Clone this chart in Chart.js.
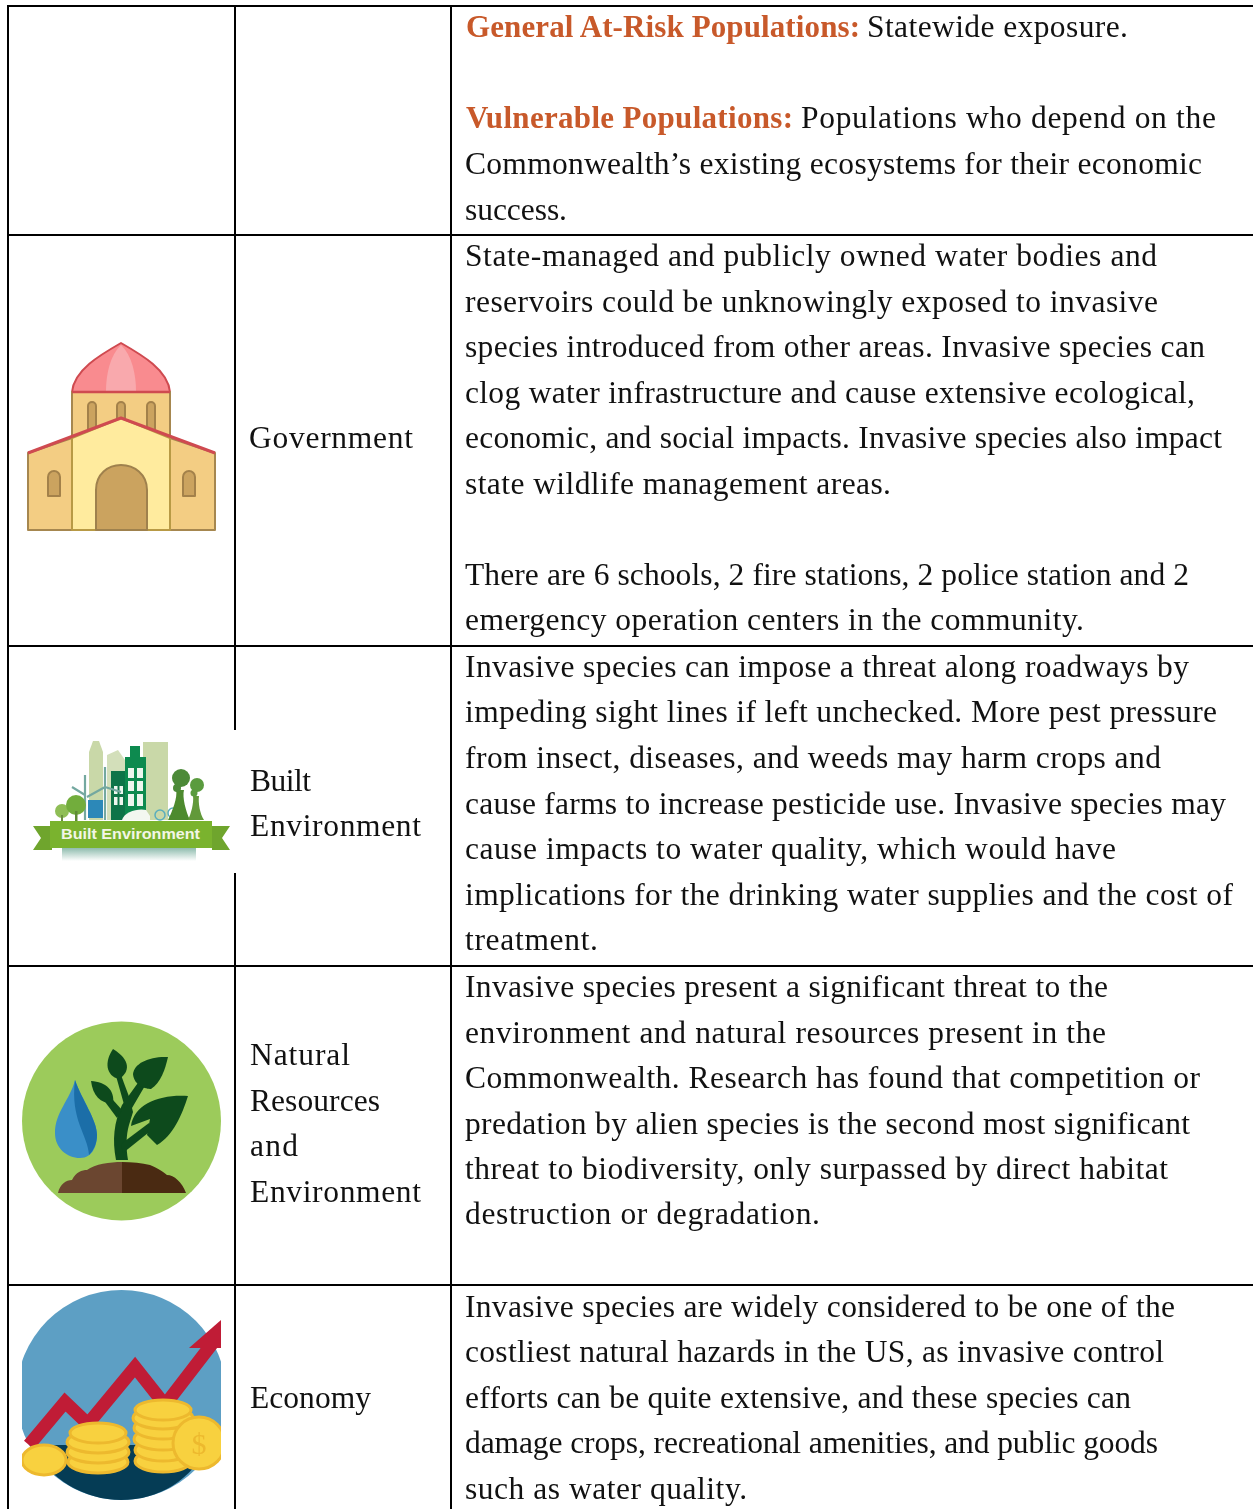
<!DOCTYPE html>
<html><head><meta charset="utf-8">
<script src="https://cdn.jsdelivr.net/npm/chart.js@4/dist/chart.umd.js"></script>
<style>
html,body{margin:0;padding:0;background:#fff;overflow:hidden}
#wrap{position:relative;width:1253px;height:1509px}
canvas,svg{position:absolute;left:0;top:0}
.t{position:absolute;white-space:pre;line-height:46px;height:46px;font-family:"Liberation Serif",serif;font-size:31.500px;color:#111}
.b{font-weight:bold;color:#c8592a;font-size:31px}
</style></head><body>
<div id="wrap"><canvas id="c" width="1253" height="1509"></canvas>
<svg id="icons" width="1253" height="1509" viewBox="0 0 1253 1509">
<defs>
<clipPath id="ec"><rect x="22" y="1285" width="199" height="224"/></clipPath>
<linearGradient id="fade" x1="0" y1="0" x2="0" y2="1"><stop offset="0" stop-color="#8fbcae"/><stop offset="1" stop-color="#fff"/></linearGradient>
</defs>
<!-- Government -->
<g stroke-linejoin="round">
<path d="M72 392C74 370 100 355 121 343C142 355 168 370 170 392Z" fill="#f98b8f" stroke="#cf4a50" stroke-width="2"/>
<path d="M121 345C110 355 106 375 106 391L136 391C136 375 132 355 121 345Z" fill="#f9a9ad"/>
<rect x="72" y="392" width="98" height="60" fill="#f3cd83" stroke="#a6874f" stroke-width="2"/>
<line x1="72" y1="392" x2="170" y2="392" stroke="#cf4a50" stroke-width="2.500"/>
<g fill="#cba35f" stroke="#a3814a" stroke-width="2">
<path d="M88 432V406a4 4 0 0 1 8 0V432Z"/><path d="M117 430V406a4 4 0 0 1 8 0V430Z"/><path d="M147 432V406a4 4 0 0 1 8 0V432Z"/></g>
<path d="M28 453L72 438V530H28Z" fill="#f3cd83" stroke="#a6874f" stroke-width="2"/>
<path d="M170 438L215 453V530H170Z" fill="#f3cd83" stroke="#a6874f" stroke-width="2"/>
<path d="M72 438L121 418L170 438V530H72Z" fill="#ffeb9e" stroke="#b89a45" stroke-width="2"/>
<path d="M28 453L121 418L215 453" fill="none" stroke="#cf4a50" stroke-width="3"/>
<path d="M96 530V490C96 474 108 465 121 465C134 465 147 474 147 490V530Z" fill="#cba35f" stroke="#9f814d" stroke-width="2"/>
<g fill="#cba35f" stroke="#a3814a" stroke-width="2">
<path d="M48 496V477a6 6 0 0 1 12 0V496Z"/><path d="M183 496V477a6 6 0 0 1 12 0V496Z"/></g>
</g>
<!-- Built environment -->
<rect x="22" y="730" width="214" height="143" fill="#fff"/>
<g>
<path d="M89 820V752L93 741L99 741L103 752V820Z" fill="#c9d8a8"/>
<path d="M107 820V755L118 750L125 760V820Z" fill="#d3dfba"/>
<rect x="143" y="742" width="25" height="78" fill="#c9d8a8"/>
<rect x="125" y="757" width="21" height="63" fill="#0d8a4f"/><rect x="130" y="746" width="10" height="12" fill="#0d8a4f"/>
<rect x="111" y="771" width="14" height="49" fill="#0e7448"/>
<g fill="#eef6ee"><rect x="128" y="768" width="6" height="10"/><rect x="137" y="768" width="6" height="10"/><rect x="128" y="781" width="6" height="10"/><rect x="137" y="781" width="6" height="10"/><rect x="128" y="794" width="6" height="12"/><rect x="137" y="794" width="6" height="12"/><rect x="114" y="786" width="3.500" height="8"/><rect x="119.500" y="786" width="3.500" height="8"/><rect x="114" y="797" width="3.500" height="8"/><rect x="119.500" y="797" width="3.500" height="8"/></g>
<rect x="88" y="800" width="15" height="18" fill="#2c88b8"/>
<path d="M85 775V820M105 767V820M105 787L87 797M105 787L121 792M85 795L72 787" stroke="#74a8a0" stroke-width="2.200" fill="none"/>
<circle cx="62" cy="811" r="7" fill="#8fbe56"/><rect x="61" y="815" width="2" height="6" fill="#6a8f3e"/>
<circle cx="76" cy="805" r="10" fill="#72ad3c"/><rect x="75" y="811" width="2.500" height="10" fill="#5e8a35"/>
<path d="M122 820C124 812 138 808 146 810L150 816L150 820Z" fill="#f3f7f0"/>
<circle cx="160" cy="815" r="5" fill="none" stroke="#5aaebd" stroke-width="1.500"/><circle cx="173" cy="813" r="5" fill="none" stroke="#5aaebd" stroke-width="1.500"/>
<path d="M176 790C178 797 172 812 168 820H190C186 812 182 797 184 790Z" fill="#4d8a2e"/>
<path d="M193 796C194 803 191 814 188 820H204C200 814 198 803 199 796Z" fill="#62993a"/>
<circle cx="181" cy="778" r="9" fill="#4c8a38"/><circle cx="177" cy="788" r="4" fill="#4c8a38"/>
<circle cx="197" cy="785" r="7" fill="#5a9b3e"/><circle cx="194" cy="793" r="3.500" fill="#5a9b3e"/>
<path d="M33 826H52V850H33L41 838Z" fill="#6fa52d"/><path d="M212 826H230L222 838L230 850H212Z" fill="#6fa52d"/>
<rect x="50" y="821" width="162" height="27" fill="#7ab32e"/>
<rect x="62" y="848" width="134" height="13" fill="url(#fade)"/>
<text x="130.500" y="838.500" text-anchor="middle" textLength="139" lengthAdjust="spacingAndGlyphs" font-family="Liberation Sans" font-weight="bold" font-size="15" fill="#f2f6e6">Built Environment</text>
</g>
<!-- Natural resources -->
<circle cx="121.500" cy="1121" r="99.500" fill="#9ccb5b"/>
<path d="M75 1080C70 1100 55 1112 55 1133C55 1148 67 1158 80 1158C93 1158 97 1145 97 1135C97 1120 82 1100 75 1080Z" fill="#3a8fc8"/>
<path d="M75 1080C82 1100 97 1120 97 1135C97 1143 94 1150 89 1155C88 1135 70 1120 75 1080Z" fill="#1b6ea8"/>
<g fill="#0d4a1c">
<path d="M116 1160C112 1140 114 1122 122 1105L140 1080L146 1084L132 1108L133 1112L129 1125C126 1135 126 1148 128 1160Z"/>
<path d="M117 1118L100 1095L105 1091L122 1110Z"/><path d="M125 1108L116 1076L121 1075L131 1102Z"/>
<path d="M121 1144L149 1123L153 1129L123 1153Z"/>
<path d="M113 1049C104 1062 106 1076 119 1079C130 1072 131 1060 113 1049Z"/>
<path d="M168 1057C150 1056 134 1063 133 1074C134 1086 146 1089 151 1089C161 1082 165 1070 168 1057Z"/>
<path d="M91 1081C93 1096 100 1103 113 1104C115 1090 106 1082 91 1081Z"/>
<path d="M188 1096C160 1094 134 1104 131 1126L150 1119L147 1135L157 1145C173 1136 182 1115 188 1096Z"/>
</g>
<path d="M58 1193C60 1184 66 1180 72 1180C76 1172 82 1170 87 1170C95 1164 110 1162 122 1162V1193Z" fill="#6b4630"/>
<path d="M122 1162C132 1162 142 1163 150 1165C158 1168 163 1172 167 1175C174 1175 182 1182 186 1193H122Z" fill="#4a2a12"/>
<!-- Economy -->
<g clip-path="url(#ec)">
<circle cx="121.500" cy="1395" r="105" fill="#5d9fc4"/>
<path d="M30 1445H210C190 1480 160 1500 121 1500C85 1500 50 1480 30 1445Z" fill="#053c55"/>
<polyline points="29,1445 65,1402 88,1424 135,1367 165,1405 215,1340" fill="none" stroke="#c01c36" stroke-width="13" stroke-linejoin="miter"/>
<path d="M221 1320L189 1348H221Z" fill="#c01c36"/>
<g fill="#f8d13f" stroke="#edb92e" stroke-width="3">
<ellipse cx="44" cy="1460" rx="22" ry="15"/>
<ellipse cx="98" cy="1462" rx="30" ry="11"/><ellipse cx="98" cy="1452" rx="31" ry="11"/><ellipse cx="98" cy="1442" rx="31" ry="11"/><ellipse cx="98" cy="1433" rx="28" ry="10"/>
<ellipse cx="163" cy="1461" rx="28" ry="11"/><ellipse cx="163" cy="1450" rx="28" ry="11"/><ellipse cx="163" cy="1439" rx="29" ry="11"/><ellipse cx="163" cy="1428" rx="29" ry="11"/><ellipse cx="163" cy="1418" rx="30" ry="11"/><ellipse cx="163" cy="1410" rx="28" ry="10"/>
<circle cx="199" cy="1443" r="26"/>
</g>
<text x="199" y="1454" text-anchor="middle" font-family="Liberation Serif" font-size="30" fill="#edb92e">$</text>
</g>
</svg>
</div>
<script>
// Table grid, in page pixels
const columnEdges = [8, 235, 451];
const rowEdges = [6, 235, 646, 966, 1285];
const tableRight = 1253;
const tableBottom = 1509;

// Each text line: text, left, right, vertical centre
const categoryLines = [
  ["Government",249,413,438],["Built",250,311,781],["Environment",250,421,826],
  ["Natural",250,350,1055],["Resources",250,380,1101],["and",250,298,1146],
  ["Environment",250,421,1192],["Economy",250,371,1398]
];
const headingLines = [
  ["General At-Risk Populations:",466,860,27],
  ["Vulnerable Populations:",466,793,118]
];
const descriptionLines = [
  ["Statewide exposure.",867,1128,27],
  ["Populations who depend on the",801,1216,118],
  ["Commonwealth\u2019s existing ecosystems for their economic",465,1202,164],
  ["success.",465,567,210],
  ["State-managed and publicly owned water bodies and",465,1157,256],
  ["reservoirs could be unknowingly exposed to invasive",465,1158,302],
  ["species introduced from other areas. Invasive species can",465,1205,347],
  ["clog water infrastructure and cause extensive ecological,",465,1195,393],
  ["economic, and social impacts. Invasive species also impact",465,1222,438],
  ["state wildlife management areas.",465,891,484],
  ["There are 6 schools, 2 fire stations, 2 police station and 2",465,1189,575],
  ["emergency operation centers in the community.",465,1084,620],
  ["Invasive species can impose a threat along roadways by",465,1189,667],
  ["impeding sight lines if left unchecked. More pest pressure",465,1217,712],
  ["from insect, diseases, and weeds may harm crops and",465,1161,758],
  ["cause farms to increase pesticide use. Invasive species may",465,1226,804],
  ["cause impacts to water quality, which would have",465,1116,849],
  ["implications for the drinking water supplies and the cost of",465,1233,895],
  ["treatment.",465,598,940],
  ["Invasive species present a significant threat to the",465,1108,987],
  ["environment and natural resources present in the",465,1106,1033],
  ["Commonwealth. Research has found that competition or",465,1200,1078],
  ["predation by alien species is the second most significant",465,1190,1124],
  ["threat to biodiversity, only surpassed by direct habitat",465,1168,1169],
  ["destruction or degradation.",465,820,1214],
  ["Invasive species are widely considered to be one of the",465,1175,1307],
  ["costliest natural hazards in the US, as invasive control",465,1164,1352],
  ["efforts can be quite extensive, and these species can",465,1131,1398],
  ["damage crops, recreational amenities, and public goods",465,1158,1443],
  ["such as water quality.",465,747,1489]
];

const ruleStyle = {borderColor:"#000",borderWidth:2,pointRadius:0,showLine:true,fill:false,tension:0};
const datasets = [
  ...columnEdges.map(x=>({...ruleStyle,data:[{x,y:rowEdges[0]},{x,y:tableBottom}]})),
  ...rowEdges.map(y=>({...ruleStyle,data:[{x:columnEdges[0]-1,y},{x:tableRight,y}]}))
];
new Chart(document.getElementById("c"),{
  type:"scatter",
  data:{datasets},
  options:{
    responsive:false,animation:false,devicePixelRatio:1,
    layout:{padding:0},
    plugins:{legend:{display:false},tooltip:{enabled:false},title:{display:false}},
    scales:{
      x:{type:"linear",min:0,max:tableRight,display:false},
      y:{type:"linear",min:0,max:tableBottom,reverse:true,display:false}
    }
  }
});

const wrap=document.getElementById("wrap");
const CENTER_SHIFT=-23;
function put(line,cls){
  const [text,l,r,c]=line;
  const s=document.createElement("span");
  s.className="t"+(cls?" "+cls:"");
  s.textContent=text;
  s.style.left=l+"px";
  s.style.top=(c+CENTER_SHIFT)+"px";
  wrap.appendChild(s);
  const w=s.getBoundingClientRect().width;
  s.style.letterSpacing=((r-l-w)/Math.max(1,text.length-1)).toFixed(3)+"px";
}
categoryLines.forEach(l=>put(l));
headingLines.forEach(l=>put(l,"b"));
descriptionLines.forEach(l=>put(l));
</script>
</body></html>
